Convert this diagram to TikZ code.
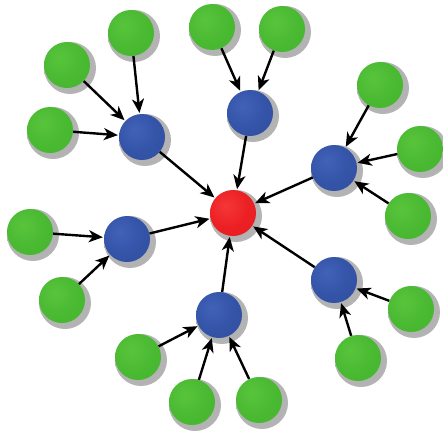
\documentclass[tikz,border=0pt]{standalone}
\usetikzlibrary{arrows.meta}
\definecolor{gL}{RGB}{88,196,60}
\definecolor{gM}{RGB}{74,186,50}
\definecolor{gD}{RGB}{52,152,36}
\definecolor{bL}{RGB}{64,98,184}
\definecolor{bM}{RGB}{52,84,168}
\definecolor{bD}{RGB}{36,58,134}
\definecolor{rL}{RGB}{245,55,55}
\definecolor{rM}{RGB}{236,32,36}
\definecolor{rD}{RGB}{200,22,24}
\pgfdeclareradialshading{greenball}{\pgfpoint{-8bp}{8bp}}{color(0bp)=(gL); color(22bp)=(gM); color(48bp)=(gM!75!gD); color(62bp)=(gD); color(100bp)=(gD)}
\pgfdeclareradialshading{blueball}{\pgfpoint{-8bp}{8bp}}{color(0bp)=(bL); color(22bp)=(bM); color(48bp)=(bM!75!bD); color(62bp)=(bD); color(100bp)=(bD)}
\pgfdeclareradialshading{redball}{\pgfpoint{-8bp}{8bp}}{color(0bp)=(rL); color(22bp)=(rM); color(48bp)=(rM!80!rD); color(62bp)=(rD); color(100bp)=(rD)}
\pgfdeclareradialshading{softshadow}{\pgfpoint{0bp}{0bp}}{color(0bp)=(black!32); color(38bp)=(black!28); color(50bp)=(white); color(100bp)=(white)}
\tikzset{
  ball/.style={circle, minimum size=46pt, inner sep=0pt},
  gnode/.style={ball, shading=greenball},
  bnode/.style={ball, shading=blueball},
  rnode/.style={ball, shading=redball},
  shadowdisc/.style={shading=softshadow},
  arr/.style={-{Stealth[length=14pt,width=12pt,inset=4pt]}, line width=2.4pt, black, shorten >=1pt}
}
\begin{document}
\begin{tikzpicture}[x=1pt,y=-1pt]
\useasboundingbox (0,0) rectangle (443,434);
% shadows
\foreach \x/\y in {233/213, 142/137, 250/113, 334/168, 127/239, 334/280, 219/315,
  67/65, 131/33, 50/130, 212/27, 282/29, 380/85, 420/149, 408/216, 30/232, 62/300,
  411/309, 358/358, 138/357, 192/402, 259/400}
  \shade[shadowdisc] (\x+3,\y+3) circle (26);
% center
\node[rnode] (r) at (233,213) {};
% blue
\node[bnode] (b1) at (142,137) {};
\node[bnode] (b2) at (250,113) {};
\node[bnode] (b3) at (334,168) {};
\node[bnode] (b4) at (127,239) {};
\node[bnode] (b5) at (334,280) {};
\node[bnode] (b6) at (219,315) {};
% green
\node[gnode] (g1) at (67,65) {};
\node[gnode] (g2) at (131,33) {};
\node[gnode] (g3) at (50,130) {};
\node[gnode] (g4) at (212,27) {};
\node[gnode] (g5) at (282,29) {};
\node[gnode] (g6) at (380,85) {};
\node[gnode] (g7) at (420,149) {};
\node[gnode] (g8) at (408,216) {};
\node[gnode] (g9) at (30,232) {};
\node[gnode] (g10) at (62,300) {};
\node[gnode] (g11) at (411,309) {};
\node[gnode] (g12) at (358,358) {};
\node[gnode] (g13) at (138,357) {};
\node[gnode] (g14) at (192,402) {};
\node[gnode] (g15) at (259,400) {};
% arrows
\foreach \g/\b in {g1/b1,g2/b1,g3/b1,g4/b2,g5/b2,g6/b3,g7/b3,g8/b3,g9/b4,g10/b4,g11/b5,g12/b5,g13/b6,g14/b6,g15/b6}
  \draw[arr] (\g) -- (\b);
\foreach \b in {b1,b2,b3,b4,b5,b6}
  \draw[arr] (\b) -- (r);
\end{tikzpicture}
\end{document}
